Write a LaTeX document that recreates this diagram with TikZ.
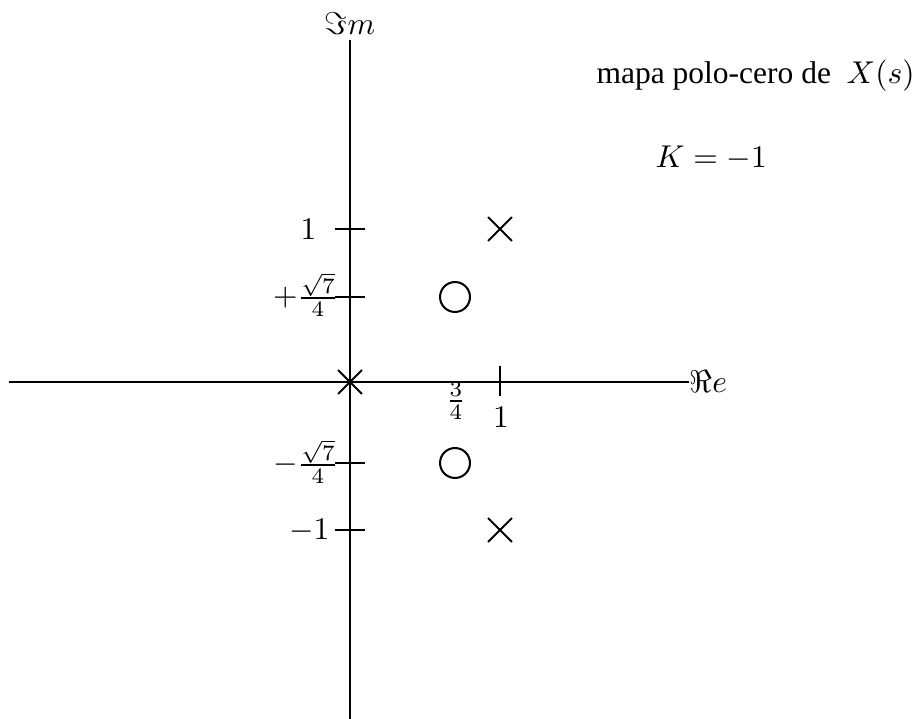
\documentclass[tikz,border=0pt]{standalone}
\usepackage{fontspec}
\setmainfont{Liberation Serif}
\usepackage{amsmath}
\usetikzlibrary{shapes.misc}

\begin{document}
\begin{tikzpicture}[
  x=0.3175pt, y=-0.3175pt,
  every node/.style={inner sep=0pt},
  axis/.style={line width=0.75pt},
  tick/.style={line width=0.4pt},
  pole/.style={cross out, draw, line width=0.6pt, minimum size=7pt},
  zero/.style={circle, draw, line width=0.65pt, minimum size=9.5pt}
]
\useasboundingbox (0,0) rectangle (918,719);
% axes
\coordinate (west) at (9,382);
\coordinate (south) at (350,719);
\node[anchor=west] (re) at (689,382) {$\Re e$};
\node[anchor=south, inner sep=1.5pt] (im) at (350,40) {$\Im m$};
\draw[axis] (west) -- (re.west);
\draw[axis] (south) -- (im.south);
% ticks
\foreach \name/\yy in {one/229, sqp/297, sqm/463, mone/530} {
  \coordinate (\name l) at (335,\yy);
  \coordinate (\name r) at (365,\yy);
  \draw[tick] (\name l) -- (\name r);
}
\coordinate (xt a) at (500,366);
\coordinate (xt b) at (500,396);
\draw[tick] (xt a) -- (xt b);
% tick labels
\node[anchor=base east] (lone) at (317,240) {$1$};
\node[anchor=base east] (lsqp) at (339,306) {$+\frac{\sqrt{7}}{4}$};
\node[anchor=base east] (lsqm) at (339,473) {$-\frac{\sqrt{7}}{4}$};
\node[anchor=base east] (lmone) at (330,540) {$-1$};
\node[anchor=base] (lthq) at (456,409) {$\frac{3}{4}$};
\node[anchor=base] (lxone) at (501,428) {$1$};
% poles and zeros
\node[pole] (p0) at (350,382) {};
\node[pole] (p1) at (500,229) {};
\node[pole] (p2) at (500,530) {};
\node[zero] (z1) at (455,297) {};
\node[zero] (z2) at (455,463) {};
% captions
\node[anchor=base west] (title) at (596,84) {mapa polo-cero de\hspace{2.5pt} $X(s)$};
\node[anchor=base west] (gain) at (655,168) {$K=-1$};
\end{tikzpicture}
\end{document}
